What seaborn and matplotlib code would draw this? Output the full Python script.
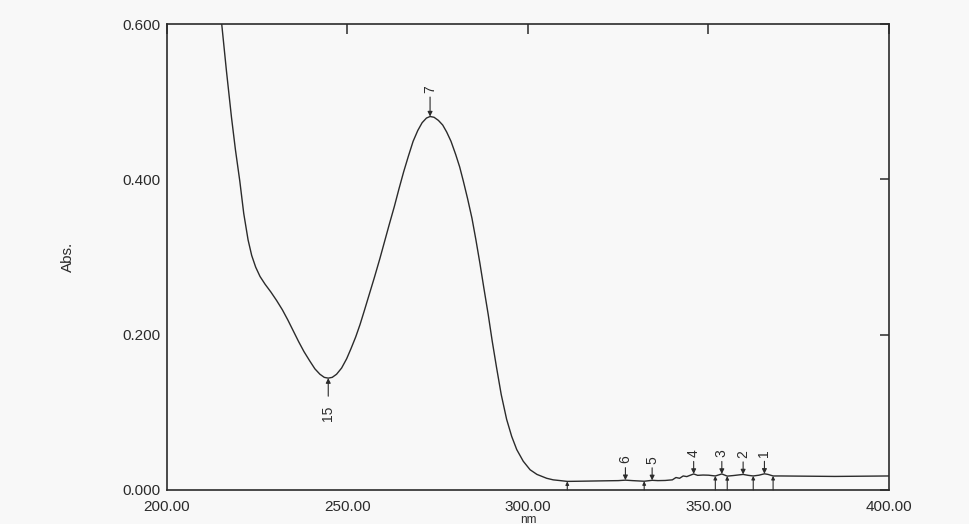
import numpy as np
import matplotlib
matplotlib.use('Agg')
import matplotlib.pyplot as plt
import seaborn as sns

sns.set_style('white')
plt.rcParams['font.family'] = ['Liberation Sans', 'DejaVu Sans']

# spectrum
wavelength = [213.5, 215.2, 216.5, 217.9, 219.0, 220.2, 221.3, 222.5, 223.5, 224.6,
              225.8, 227.2, 228.8, 230.4, 232.0, 233.5, 235.0, 236.5, 238.0, 239.6,
              241.0, 242.4, 243.6, 244.7, 245.8, 247.0, 248.4, 249.8, 251.0, 252.3,
              253.5, 254.7, 256.0, 257.5, 259.0, 260.3, 261.6, 263.0, 264.3, 265.6,
              266.9, 268.2, 269.5, 270.7, 271.9, 272.9, 274.0, 275.2, 276.4, 277.5,
              278.7, 280.0, 281.1, 282.1, 283.3, 284.5, 285.6, 286.7, 287.8, 289.0,
              290.1, 291.3, 292.6, 294.1, 295.5, 296.9, 298.7, 300.6, 302.5, 305.2,
              307.0, 309.0, 310.9, 314.0, 318.0, 322.0, 325.0, 327.0, 329.0, 332.2,
              334.4, 336.0, 338.0, 340.0, 341.0, 342.0, 343.0, 344.0, 345.0, 345.9,
              347.0, 348.5, 350.0, 351.9, 353.7, 355.2, 357.0, 359.6, 361.0, 362.4,
              364.0, 365.5, 366.5, 367.9, 370.0, 375.0, 380.0, 385.0, 390.0, 395.0,
              400.0]
absorbance = [0.660, 0.600, 0.540, 0.480, 0.438, 0.398, 0.356, 0.322, 0.302, 0.287,
              0.275, 0.265, 0.255, 0.244, 0.232, 0.219, 0.205, 0.191, 0.178, 0.166,
              0.156, 0.149, 0.145, 0.144, 0.145, 0.149, 0.157, 0.169, 0.182, 0.197,
              0.213, 0.231, 0.251, 0.274, 0.298, 0.320, 0.342, 0.365, 0.388, 0.410,
              0.430, 0.449, 0.463, 0.473, 0.479, 0.481, 0.480, 0.476, 0.470, 0.461,
              0.449, 0.432, 0.416, 0.398, 0.375, 0.350, 0.322, 0.292, 0.260, 0.226,
              0.192, 0.158, 0.123, 0.091, 0.069, 0.052, 0.037, 0.026, 0.020, 0.015,
              0.013, 0.012, 0.0110, 0.0112, 0.0115, 0.0118, 0.0120, 0.0126, 0.0120, 0.0112,
              0.0124, 0.0120, 0.0122, 0.0130, 0.0160, 0.0150, 0.0180, 0.0172, 0.0190, 0.0206,
              0.0188, 0.0192, 0.0190, 0.0180, 0.0206, 0.0178, 0.0186, 0.0200, 0.0188, 0.0180,
              0.0190, 0.0208, 0.0200, 0.0180, 0.0180, 0.0178, 0.0176, 0.0174, 0.0176, 0.0178,
              0.0180]

# peak picks (arrow down, number above)
peak_nm = [365.5, 359.6, 353.7, 345.9, 334.4, 327.0, 272.9]
peak_lbl = ['1', '2', '3', '4', '5', '6', '7']
# valley picks drawn from the axis
valley_nm = [310.9, 332.2, 351.9, 355.2, 362.4, 367.9]
# labelled valley
min_nm = [244.7]
min_lbl = ['15']

xticks = [200, 250, 300, 350, 400]
yticks = [0.0, 0.2, 0.4, 0.6]

ink = '#2b2b2b'
paper = '#f8f8f8'

fig = plt.figure(figsize=(9.7, 5.24), dpi=100, facecolor=paper)
ax = fig.add_axes([0.172, 0.065, 0.7445, 0.889], facecolor=paper)

sns.lineplot(x=wavelength, y=absorbance, ax=ax, color=ink, lw=1.0)

ax.set_xlim(200, 400)
ax.set_ylim(0, 0.6)
ax.set_xticks(xticks)
ax.set_xticklabels([f'{v:.2f}' for v in xticks])
ax.set_yticks(yticks)
ax.set_yticklabels([f'{v:.3f}' for v in yticks])
ax.tick_params(axis='x', direction='in', length=7, width=1.1, color=ink,
               top=True, pad=7, labelsize=11, labelcolor=ink)
ax.tick_params(axis='y', direction='out', length=3.5, width=1.1, color=ink,
               pad=1, labelsize=11, labelcolor=ink)
sec = ax.secondary_yaxis('right')
sec.set_yticks(yticks)
sec.tick_params(direction='in', length=6.5, width=1.1, color=ink, labelright=False)
sec.spines['right'].set_visible(False)
for s in ax.spines.values():
    s.set_color(ink)
    s.set_linewidth(1.2)

ax.set_xlabel('nm', fontsize=8.5, color=ink, labelpad=0)
ax.set_ylabel('Abs.', fontsize=11, color=ink, labelpad=34)

arrow = dict(arrowstyle='-|>', color=ink, lw=0.8, shrinkA=0, shrinkB=0,
             mutation_scale=7)

for nm, lbl in zip(peak_nm, peak_lbl):
    y = np.interp(nm, wavelength, absorbance)
    big = y > 0.1
    off = 14 if big else 9
    ax.annotate('', xy=(nm, y), xytext=(0, off), textcoords='offset points',
                arrowprops=arrow)
    ax.annotate(lbl, xy=(nm, y), xytext=(0, off + 3), textcoords='offset points',
                rotation=90, ha='center', va='bottom', fontsize=10, color=ink)

for nm in valley_nm:
    y = np.interp(nm, wavelength, absorbance)
    ax.annotate('', xy=(nm, y), xytext=(nm, 0), textcoords='data',
                arrowprops=dict(arrow, mutation_scale=5))

for nm, lbl in zip(min_nm, min_lbl):
    y = np.interp(nm, wavelength, absorbance)
    ax.annotate('', xy=(nm, y), xytext=(0, -13), textcoords='offset points',
                arrowprops=arrow)
    ax.annotate(lbl, xy=(nm, y), xytext=(0, -20), textcoords='offset points',
                rotation=90, ha='center', va='top', fontsize=10, color=ink)

fig.savefig('out.png', dpi=100, facecolor=paper)
